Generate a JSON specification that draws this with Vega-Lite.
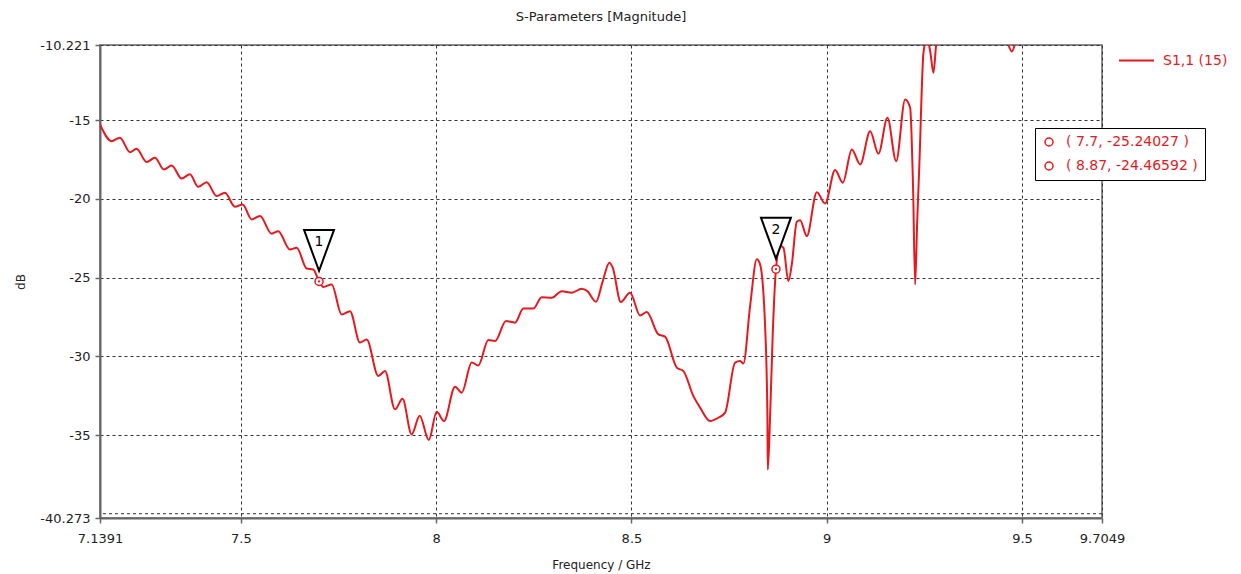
{
  "$schema": "https://vega.github.io/schema/vega-lite/v6.json",
  "width": 1002,
  "height": 473,
  "autosize": {"type": "none"},
  "padding": {"left": 100, "top": 45, "right": 139, "bottom": 56},
  "background": "white",
  "config": {
    "font": "DejaVu Sans",
    "view": {"stroke": "#666", "strokeWidth": 1.5}
  },
  "title": {"text": "S-Parameters [Magnitude]", "fontSize": 13, "fontWeight": "normal", "color": "#222", "anchor": "middle", "offset": 15},
  "datasets": {
    "curve": [
      {"f": 7.1391, "db": -15.27}, {"f": 7.1688, "db": -16.33}, {"f": 7.1901, "db": -16.11}, {"f": 7.2157, "db": -17.03},
      {"f": 7.2328, "db": -16.81}, {"f": 7.2585, "db": -17.66}, {"f": 7.2797, "db": -17.38}, {"f": 7.3028, "db": -18.13},
      {"f": 7.3225, "db": -17.87}, {"f": 7.3481, "db": -18.70}, {"f": 7.3694, "db": -18.44}, {"f": 7.3906, "db": -19.23},
      {"f": 7.4121, "db": -18.94}, {"f": 7.4378, "db": -19.82}, {"f": 7.459, "db": -19.61}, {"f": 7.4846, "db": -20.50},
      {"f": 7.5044, "db": -20.35}, {"f": 7.5274, "db": -21.30}, {"f": 7.5487, "db": -21.09}, {"f": 7.5786, "db": -22.21},
      {"f": 7.5955, "db": -22.05}, {"f": 7.6255, "db": -23.21}, {"f": 7.6427, "db": -23.10}, {"f": 7.6683, "db": -24.42},
      {"f": 7.6852, "db": -24.48}, {"f": 7.7, "db": -25.24}, {"f": 7.711, "db": -25.6}, {"f": 7.7323, "db": -25.43},
      {"f": 7.7579, "db": -27.34}, {"f": 7.7792, "db": -27.13}, {"f": 7.8048, "db": -29.13}, {"f": 7.822, "db": -28.93},
      {"f": 7.8517, "db": -31.25}, {"f": 7.8689, "db": -30.94}, {"f": 7.8945, "db": -33.37}, {"f": 7.9137, "db": -32.70},
      {"f": 7.9372, "db": -34.96}, {"f": 7.9577, "db": -33.77}, {"f": 7.981, "db": -35.32}, {"f": 8.0013, "db": -33.53},
      {"f": 8.02, "db": -34.11}, {"f": 8.0482, "db": -31.93}, {"f": 8.0653, "db": -32.31}, {"f": 8.0909, "db": -30.40},
      {"f": 8.1078, "db": -30.58}, {"f": 8.1335, "db": -28.97}, {"f": 8.1506, "db": -29.03}, {"f": 8.1788, "db": -27.76},
      {"f": 8.2018, "db": -27.86}, {"f": 8.2231, "db": -26.96}, {"f": 8.2487, "db": -26.97}, {"f": 8.2702, "db": -26.24},
      {"f": 8.2958, "db": -26.28}, {"f": 8.3215, "db": -25.86}, {"f": 8.3471, "db": -25.96}, {"f": 8.3727, "db": -25.71},
      {"f": 8.387, "db": -25.86}, {"f": 8.4093, "db": -26.53}, {"f": 8.4265, "db": -25.22}, {"f": 8.4434, "db": -24.05},
      {"f": 8.4521, "db": -24.37}, {"f": 8.4726, "db": -26.55}, {"f": 8.4964, "db": -25.96}, {"f": 8.522, "db": -27.40},
      {"f": 8.5392, "db": -27.19}, {"f": 8.5689, "db": -28.61}, {"f": 8.586, "db": -28.75}, {"f": 8.616, "db": -30.72},
      {"f": 8.633, "db": -30.94}, {"f": 8.6586, "db": -32.53}, {"f": 8.6757, "db": -33.26}, {"f": 8.7013, "db": -34.11},
      {"f": 8.7226, "db": -33.90}, {"f": 8.7398, "db": -33.58}, {"f": 8.7654, "db": -30.40}, {"f": 8.7782, "db": -30.30},
      {"f": 8.7866, "db": -30.45}, {"f": 8.8038, "db": -26.81}, {"f": 8.821, "db": -23.84}, {"f": 8.8294, "db": -24.16},
      {"f": 8.8422, "db": -28.08}, {"f": 8.8481, "db": -33.80}, {"f": 8.8491, "db": -37.2}, {"f": 8.855, "db": -33.8},
      {"f": 8.8619, "db": -28.49}, {"f": 8.87, "db": -24.47}, {"f": 8.8806, "db": -22.99}, {"f": 8.8891, "db": -23.10},
      {"f": 8.9019, "db": -25.22}, {"f": 8.9106, "db": -24.16}, {"f": 8.9234, "db": -21.45}, {"f": 8.9319, "db": -21.35},
      {"f": 8.949, "db": -22.36}, {"f": 8.9746, "db": -19.57}, {"f": 8.9959, "db": -20.29}, {"f": 9.0215, "db": -18.17},
      {"f": 9.0412, "db": -18.97}, {"f": 9.0643, "db": -16.86}, {"f": 9.0856, "db": -17.81}, {"f": 9.1112, "db": -15.70},
      {"f": 9.1324, "db": -17.13}, {"f": 9.1555, "db": -14.85}, {"f": 9.1778, "db": -17.60}, {"f": 9.2008, "db": -13.68},
      {"f": 9.2136, "db": -14.21}, {"f": 9.2213, "db": -19.5}, {"f": 9.2264, "db": -25.43}, {"f": 9.2316, "db": -21.5},
      {"f": 9.2374, "db": -17.7}, {"f": 9.2477, "db": -10.72}, {"f": 9.2564, "db": -9.8}, {"f": 9.2649, "db": -10.6},
      {"f": 9.2733, "db": -11.99}, {"f": 9.2802, "db": -10.2}, {"f": 9.2905, "db": -9.0}, {"f": 9.3417, "db": -8.0},
      {"f": 9.4185, "db": -8.5}, {"f": 9.457, "db": -9.6}, {"f": 9.474, "db": -10.63}, {"f": 9.49, "db": -9.6},
      {"f": 9.572, "db": -8.5}, {"f": 9.7049, "db": -8.0}
    ],
    "markers": [
      {"f": 7.7, "db": -25.24027, "id": "1", "label": "( 7.7, -25.24027 )"},
      {"f": 8.87, "db": -24.46592, "id": "2", "label": "( 8.87, -24.46592 )"}
    ],
    "extra_grid": [{"db": -40}]
  },
  "layer": [
    {
      "data": {"name": "extra_grid"},
      "mark": {"type": "rule", "stroke": "#333", "strokeDash": [3, 3], "strokeWidth": 1},
      "encoding": {
        "y": {"field": "db", "type": "quantitative"}
      }
    },
    {
      "data": {"name": "curve"},
      "mark": {"type": "line", "strokeWidth": 2, "clip": true, "interpolate": "monotone"},
      "encoding": {
        "x": {
          "field": "f", "type": "quantitative",
          "scale": {"domain": [7.1391, 9.7049], "nice": false, "zero": false},
          "axis": {
            "values": [7.1391, 7.5, 8, 8.5, 9, 9.5, 9.7049],
            "labelExpr": "'' + datum.value",
            "title": "Frequency / GHz",
            "titleFontSize": 12, "titleFontWeight": "normal", "titleColor": "#222", "titlePadding": 14,
            "labelFontSize": 13, "labelColor": "#222", "labelPadding": 9, "labelFlush": false, "labelOverlap": false,
            "tickColor": "#666", "tickSize": 5, "tickWidth": 1.5,
            "domainColor": "#666", "domainWidth": 2,
            "grid": true, "gridColor": "#333", "gridDash": [3, 3], "gridWidth": 1, "gridOpacity": 1
          }
        },
        "y": {
          "field": "db", "type": "quantitative",
          "scale": {"domain": [-40.273, -10.221], "nice": false, "zero": false},
          "axis": {
            "values": [-40.273, -35, -30, -25, -20, -15, -10.221],
            "labelExpr": "'' + datum.value",
            "title": "dB",
            "titleFontSize": 12, "titleFontWeight": "normal", "titleColor": "#222", "titlePadding": 12,
            "labelFontSize": 13, "labelColor": "#222", "labelPadding": 5, "labelFlush": false, "labelOverlap": false,
            "tickColor": "#666", "tickSize": 5, "tickWidth": 1.5,
            "domainColor": "#666", "domainWidth": 2,
            "grid": true, "gridColor": "#333", "gridDash": [3, 3], "gridWidth": 1, "gridOpacity": 1
          }
        },
        "color": {
          "datum": "S1,1 (15)",
          "type": "nominal",
          "scale": {"range": ["#e8191e"]},
          "legend": {
            "title": null, "orient": "none", "legendX": 1018, "legendY": -3, "padding": 0,
            "symbolType": "stroke", "symbolSize": 1225, "symbolStrokeWidth": 2,
            "labelFontSize": 14, "labelColor": "#e8191e", "labelOffset": 8
          }
        }
      }
    },
    {
      "data": {"name": "markers"},
      "mark": {"type": "point", "shape": "M-0.73,-1H0.73L0,1Z", "size": 1681, "filled": true, "fill": "white", "stroke": "black", "strokeWidth": 2, "opacity": 1, "yOffset": -31},
      "encoding": {
        "x": {"field": "f", "type": "quantitative"},
        "y": {"field": "db", "type": "quantitative"}
      }
    },
    {
      "data": {"name": "markers"},
      "mark": {"type": "text", "fontSize": 14, "color": "black", "yOffset": -39, "baseline": "middle", "align": "center"},
      "encoding": {
        "x": {"field": "f", "type": "quantitative"},
        "y": {"field": "db", "type": "quantitative"},
        "text": {"field": "id"}
      }
    },
    {
      "data": {"name": "markers"},
      "mark": {"type": "point", "shape": "circle", "filled": true, "color": "white", "size": 64, "opacity": 1},
      "encoding": {
        "x": {"field": "f", "type": "quantitative"},
        "y": {"field": "db", "type": "quantitative"}
      }
    },
    {
      "data": {"name": "markers"},
      "mark": {"type": "point", "filled": false, "color": "#e8191e", "strokeWidth": 1.5, "size": 64, "opacity": 1},
      "encoding": {
        "x": {"field": "f", "type": "quantitative"},
        "y": {"field": "db", "type": "quantitative"},
        "shape": {
          "field": "label", "type": "nominal",
          "scale": {"range": ["circle", "circle"]},
          "legend": {
            "title": null, "orient": "none", "legendX": 935, "legendY": 83, "padding": 7,
            "strokeColor": "black", "fillColor": "white",
            "symbolStrokeColor": "#e8191e", "symbolStrokeWidth": 1.5, "symbolSize": 64,
            "labelFontSize": 14, "labelColor": "#e8191e", "labelOffset": 10, "rowPadding": 10,
            "encode": {"legend": {"update": {"strokeWidth": {"value": 2}}}}
          }
        }
      }
    },
    {
      "data": {"name": "markers"},
      "mark": {"type": "point", "filled": true, "color": "#e8191e", "size": 5, "opacity": 1},
      "encoding": {
        "x": {"field": "f", "type": "quantitative"},
        "y": {"field": "db", "type": "quantitative"}
      }
    }
  ]
}
